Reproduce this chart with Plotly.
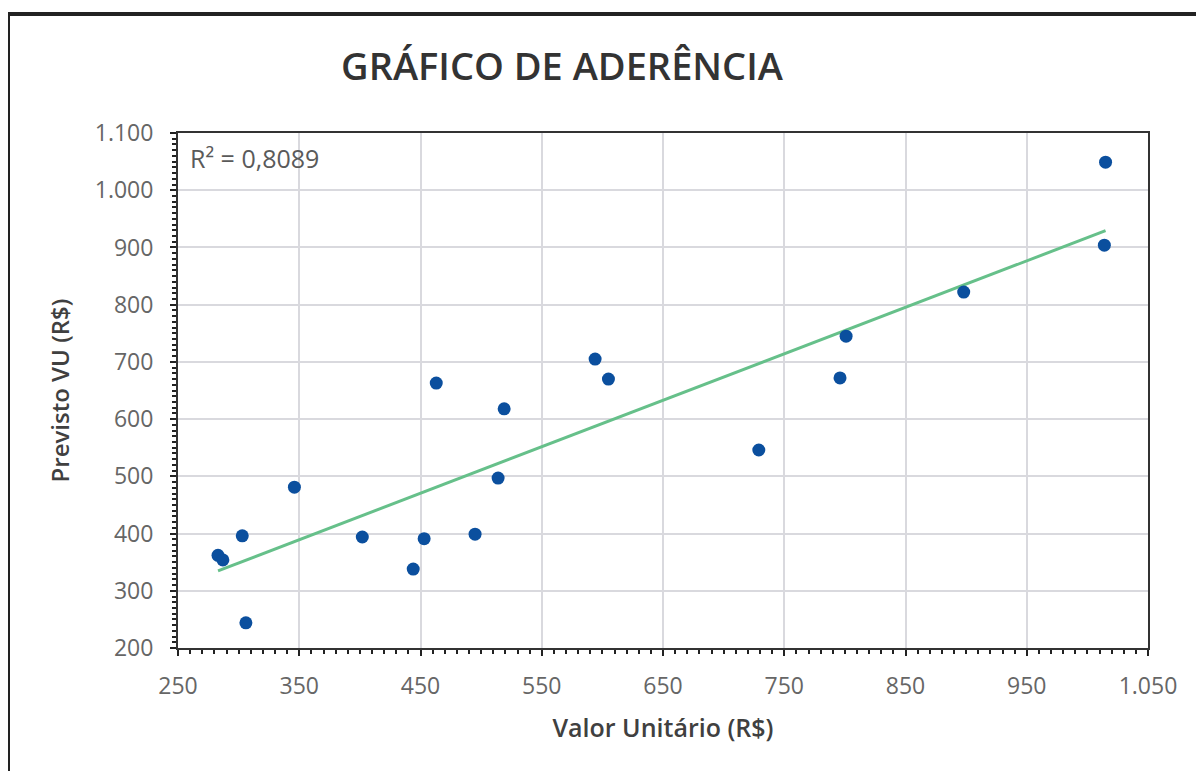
import numpy as np
import plotly.graph_objects as go

# valores observados (x) e previstos pelo modelo (y)
valor_unitario = [283, 287, 303, 306, 346, 402, 444, 453, 463, 495,
                  514, 519, 594, 605, 729, 796, 801, 898, 1014, 1015]
previsto_vu = [362, 354, 396, 244, 481, 394, 338, 391, 663, 399,
               497, 618, 705, 670, 546, 672, 745, 822, 904, 1049]

x_ticks = [250, 350, 450, 550, 650, 750, 850, 950, 1050]
y_ticks = [200, 300, 400, 500, 600, 700, 800, 900, 1000, 1100]
r2_text = "R² = 0,8089"

# linha de tendencia linear
slope, intercept = np.polyfit(valor_unitario, previsto_vu, 1)
trend_x = [min(valor_unitario), max(valor_unitario)]
trend_y = [slope * v + intercept for v in trend_x]

# a pagina tem 8px de margem no body, por isso a figura e menor
W, H = 1196, 763
L, R, T, B = 170, 56, 125, 123
pw, ph = W - L - R, H - T - B

fig = go.Figure()
fig.add_trace(go.Scatter(
    x=trend_x, y=trend_y, mode='lines',
    line=dict(color='#66c08a', width=3),
    hoverinfo='skip', showlegend=False,
))
fig.add_trace(go.Scatter(
    x=valor_unitario, y=previsto_vu, mode='markers',
    marker=dict(color='#0b4f9e', size=13),
    showlegend=False,
))

axis_common = dict(
    showline=True, mirror=True, linecolor='#333333', linewidth=2,
    showgrid=True, gridcolor='#d9d9de', gridwidth=2,
    zeroline=False,
    ticks='outside', ticklen=6, tickwidth=2, tickcolor='#222222',
    tickfont=dict(family='Open Sans', size=23, color='#666666'),
    separatethousands=True,
    minor=dict(dtick=10, ticks='outside', ticklen=4, tickwidth=1.5,
               tickcolor='#222222', showgrid=False),
)

fig.update_xaxes(
    range=[250, 1050], tickmode='array', tickvals=x_ticks,
    ticklabelstandoff=10,
    title=dict(text='Valor Unitário (R$)', standoff=20,
               font=dict(family='Open Sans', size=25, color='#404040', weight=600)),
    **axis_common,
)
fig.update_yaxes(
    range=[200, 1100], tickmode='array', tickvals=y_ticks,
    ticklabelstandoff=12,
    title=dict(text='Previsto VU (R$)', standoff=18,
               font=dict(family='Open Sans', size=24, color='#404040', weight=600)),
    **axis_common,
)

fig.add_annotation(
    text=r2_text, xref='paper', yref='paper',
    x=(180 - L) / pw, y=(H - B - 150) / ph,
    xanchor='left', yanchor='middle', showarrow=False,
    font=dict(family='Open Sans', size=25, color='#5a5a5a'),
)

# moldura externa
fig.add_shape(
    type='rect', xref='paper', yref='paper',
    x0=(0 - L) / pw, x1=(1230 - L) / pw,
    y0=(H - B - 800) / ph, y1=(H - B - 6) / ph,
    line=dict(color='#222222', width=4), layer='below',
)

fig.update_layout(
    width=W, height=H, autosize=False,
    margin=dict(l=L, r=R, t=T, b=B),
    paper_bgcolor='white', plot_bgcolor='white',
    separators=',.',
    title=dict(
        text='GRÁFICO DE ADERÊNCIA', xref='container', yref='container',
        x=554 / W, y=1 - 59 / H, xanchor='center', yanchor='middle',
        font=dict(family='Open Sans', size=38, color='#333333', weight=600),
    ),
)

fig.write_html("out.html")
